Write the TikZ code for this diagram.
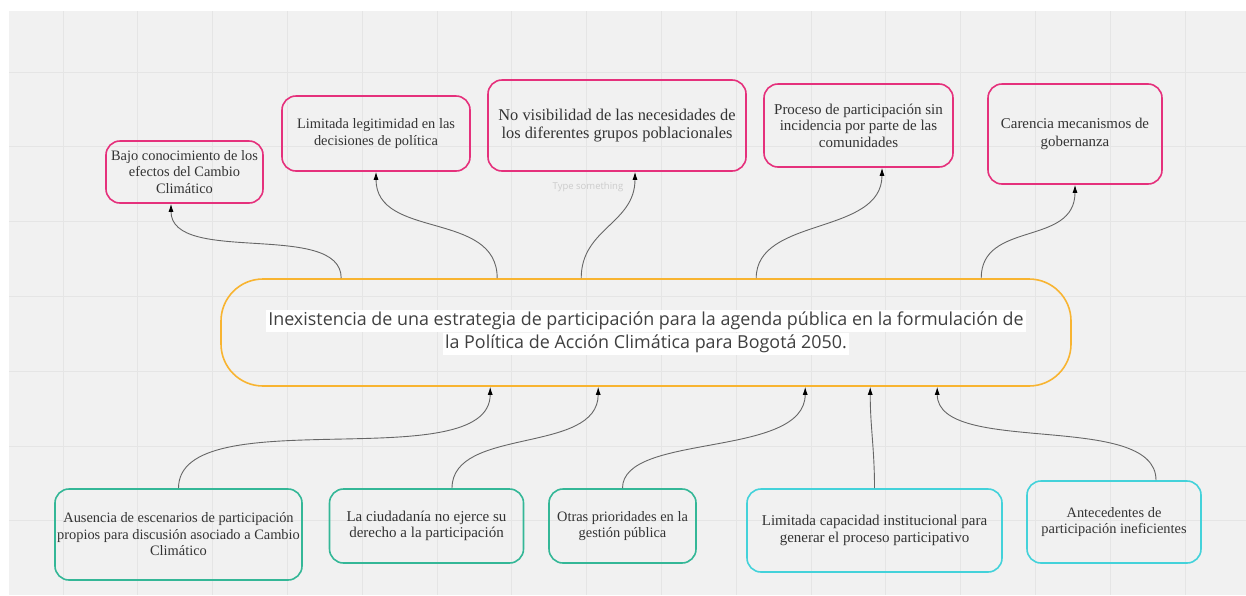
\documentclass[tikz,border=0pt]{standalone}
\usepackage{fontspec}
\setmainfont{Liberation Serif}
\newfontfamily\opensans{Open Sans}
\usetikzlibrary{arrows.meta}
\definecolor{canvas}{HTML}{F1F1F1}
\definecolor{gridline}{HTML}{E5E5E5}
\definecolor{causepink}{HTML}{E5317C}
\definecolor{effectteal}{HTML}{34B797}
\definecolor{effectcyan}{HTML}{43D2DA}
\definecolor{coreorange}{HTML}{F8B431}
\definecolor{linkgray}{HTML}{666666}
\begin{document}
\begin{tikzpicture}[x=1pt, y=-1pt,
        box/.style={rectangle, draw, line width=1.6pt, rounded corners=14pt, align=center,
            inner sep=0pt, font=\fontsize{14.4}{16.5}\selectfont, text=black!80},
        pinkbox/.style={box, draw=causepink},
        tealbox/.style={box, draw=effectteal},
        cyanbox/.style={box, draw=effectcyan},
        core/.style={rectangle, draw=coreorange, line width=1.6pt, rounded corners=42pt,
            minimum width=850pt, minimum height=107pt, align=center,
            font=\opensans\fontsize{17.9}{22}\selectfont, text=black!75},
        link/.style={-{Latex[length=8pt, width=5pt, color=black]}, draw=linkgray, line width=0.9pt}
    ]
        % canvas and grid
        \useasboundingbox (0,0) rectangle (1246,595);
        \fill[white] (0,0) rectangle (1246,595);
        \fill[canvas] (9,11) rectangle (1246,595);
        \foreach \gx in {63,137.8,...,1246} \draw[gridline, line width=0.8pt] (\gx,11) -- (\gx,595);
        \foreach \gy in {72,146.8,...,595} \draw[gridline, line width=0.8pt] (9,\gy) -- (1246,\gy);

        % central problem
        \setlength{\fboxsep}{2pt}
        \node[core] (core) at (646, 332.5)
            {\colorbox{white}{Inexistencia de una estrategia de participación para la agenda pública en la formulación de}\\
             \colorbox{white}{la Política de Acción Climática para Bogotá 2050.}};

        % causes above
        \node[pinkbox, minimum width=157pt, minimum height=62pt] (bajo) at (184.5, 172)
            {Bajo conocimiento de los\\efectos del Cambio\\Climático};
        \node[pinkbox, minimum width=188pt, minimum height=75pt] (legit) at (376, 133.5)
            {Limitada legitimidad en las\\decisiones de política};
        \node[pinkbox, minimum width=258pt, minimum height=91pt, font=\fontsize{16.4}{18.5}\selectfont] (visib) at (617, 125.5)
            {No visibilidad de las necesidades de\\los diferentes grupos poblacionales};
        \node[pinkbox, minimum width=189pt, minimum height=83pt, font=\fontsize{15}{16.5}\selectfont] (proceso) at (858.5, 125.5)
            {Proceso de participación sin\\incidencia por parte de las\\comunidades};
        \node[pinkbox, minimum width=174pt, minimum height=100pt, font=\fontsize{14.9}{17.5}\selectfont] (carencia) at (1075, 134)
            {Carencia mecanismos de\\gobernanza};
        \node[text=black!20, font=\opensans\fontsize{9.5}{11}\selectfont] (hint) at (588, 187) {Type something};

        % effects below
        \node[tealbox, minimum width=247pt, minimum height=91pt] (ausencia) at (178.5, 534.5)
            {Ausencia de escenarios de participación\\propios para discusión asociado a Cambio\\Climático};
        \node[tealbox, minimum width=194pt, minimum height=74pt, font=\fontsize{15}{16.5}\selectfont] (ciudad) at (426.5, 526)
            {La ciudadanía no ejerce su\\derecho a la participación};
        \node[tealbox, minimum width=147pt, minimum height=74pt] (otras) at (622.5, 526)
            {Otras prioridades en la\\gestión pública};
        \node[cyanbox, minimum width=255pt, minimum height=83pt, font=\fontsize{15}{16.5}\selectfont] (capac) at (874.5, 530.5)
            {Limitada capacidad institucional para\\generar el proceso participativo};
        \node[cyanbox, minimum width=174pt, minimum height=82pt] (antec) at (1114, 522)
            {Antecedentes de\\participación ineficientes};

        % links up
        \draw[link] ([xshift=121pt]core.north west) .. controls +(0,-58) and +(0,62) .. ([xshift=-13.5pt]bajo.south);
        \draw[link] ([xshift=277pt]core.north west) .. controls +(0,-68) and +(0,68) .. (legit.south);
        \draw[link] ([xshift=361pt]core.north west) .. controls +(0,-50) and +(0,52) .. ([xshift=18pt]visib.south);
        \draw[link] ([xshift=536pt]core.north west) .. controls +(0,-62) and +(0,68) .. ([xshift=23.5pt]proceso.south);
        \draw[link] ([xshift=761pt]core.north west) .. controls +(0,-58) and +(0,62) .. (carencia.south);

        % links from below
        \draw[link] (ausencia.north) .. controls +(0,-90) and +(0,92) .. ([xshift=270pt]core.south west);
        \draw[link] ([xshift=25.5pt]ciudad.north) .. controls +(0,-62) and +(0,68) .. ([xshift=378pt]core.south west);
        \draw[link] (otras.north) .. controls +(0,-56) and +(0,72) .. ([xshift=585pt]core.south west);
        \draw[link] (capac.north) .. controls +(0,-40) and +(0,40) .. ([xshift=650pt]core.south west);
        \draw[link] ([xshift=42pt]antec.north) .. controls +(0,-70) and +(0,70) .. ([xshift=717pt]core.south west);
    \end{tikzpicture}
\end{document}
